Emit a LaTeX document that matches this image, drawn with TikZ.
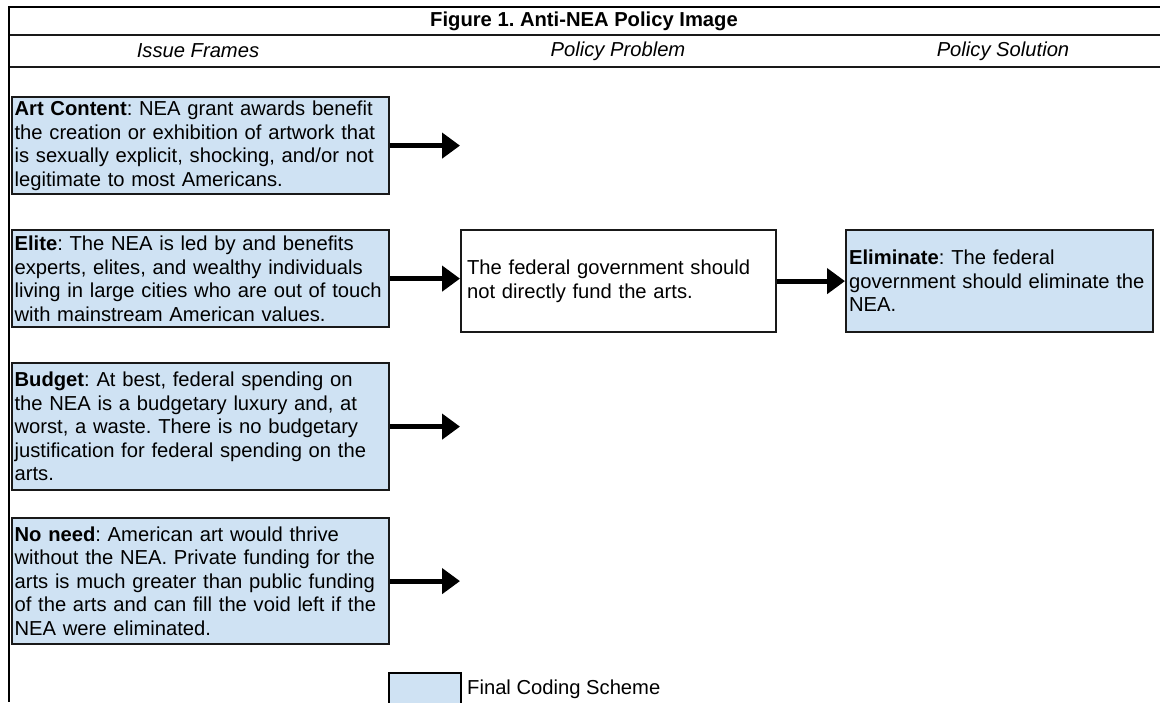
\documentclass[tikz,border=0pt]{standalone}
\usepackage{fontspec}
\setmainfont{Liberation Sans}
\usetikzlibrary{arrows.meta}
\definecolor{codeblue}{HTML}{CFE2F3}
\frenchspacing
\begin{document}
\begin{tikzpicture}[x=1pt,y=-1pt,
  font=\fontsize{20.2}{23.5}\selectfont,
  rule/.style={line width=2.8pt, draw=black},
  framebox/.style={draw=black!90, line width=2.2pt, fill=codeblue, anchor=north west,
    inner xsep=2.5pt, inner ysep=2pt, align=left, text width=372pt},
  plainbox/.style={draw=black!90, line width=2.2pt, fill=white, anchor=north west,
    inner xsep=6pt, align=left, text width=303pt, minimum height=102pt},
  solbox/.style={draw=black!90, line width=2.2pt, fill=codeblue, anchor=north west,
    inner xsep=3pt, align=left, text width=301pt, minimum height=102pt},
  fat/.style={line width=5pt, -{Triangle[length=18pt,width=25pt]}},
  hdr/.style={font=\fontsize{20.2}{23.5}\selectfont\itshape, anchor=center},
]
\useasboundingbox (0,0) rectangle (1160,702);
% frame lines
\draw[rule] (9,7) -- (1160,7);
\draw[rule] (9,6) -- (9,702);
\draw[rule, draw=black!90] (10,35) -- (1160,35);
\draw[rule, draw=black!90] (10,67) -- (1160,67);
% title and headers
\node[font=\fontsize{20.2}{23.5}\selectfont\bfseries] (title) at (584,21) {Figure 1. Anti-NEA Policy Image};
\node[hdr] (h1) at (198,51) {Issue Frames};
\node[hdr] (h2) at (618,51) {Policy Problem};
\node[hdr] (h3) at (1003,51) {Policy Solution};
% issue frame boxes
\node[framebox, minimum height=97pt] (art) at (11,96) {\textbf{Art Content}: NEA grant awards benefit\\the creation or exhibition of artwork that\\is sexually explicit, shocking, and/or not\\legitimate to most Americans.};
\node[framebox, minimum height=97pt] (elite) at (11,229) {\textbf{Elite}: The NEA is led by and benefits\\experts, elites, and wealthy individuals\\living in large cities who are out of touch\\with mainstream American values.};
\node[framebox, minimum height=127pt] (budget) at (11,362) {\textbf{Budget}: At best, federal spending on\\the NEA is a budgetary luxury and, at\\worst, a waste. There is no budgetary\\justification for federal spending on the\\arts.};
\node[framebox, minimum height=126pt] (noneed) at (11,517) {\textbf{No need}: American art would thrive\\without the NEA. Private funding for the\\arts is much greater than public funding\\of the arts and can fill the void left if the\\NEA were eliminated.};
% problem and solution
\node[plainbox] (problem) at (460,229) {The federal government should\\not directly fund the arts.};
\node[solbox] (solution) at (845,229) {\textbf{Eliminate}: The federal\\government should eliminate the\\NEA.};
% arrow ends
\coordinate (e1) at (art.east -| problem.west);
\coordinate (e3) at (budget.east -| problem.west);
\coordinate (e4) at (noneed.east -| problem.west);
\draw[fat] (art.east) -- (e1);
\draw[fat] (elite.east) -- (elite.east -| problem.west);
\draw[fat] (budget.east) -- (e3);
\draw[fat] (noneed.east) -- (e4);
\draw[fat] (problem.east) -- (solution.west);
% legend
\node[draw=black, line width=2.2pt, fill=codeblue, anchor=north west, minimum width=72pt, minimum height=34pt, inner sep=0pt] (legbox) at (388,672) {};
\node[anchor=west, inner xsep=0pt] (legtext) at (467,689) {Final Coding Scheme};
\end{tikzpicture}
\end{document}
